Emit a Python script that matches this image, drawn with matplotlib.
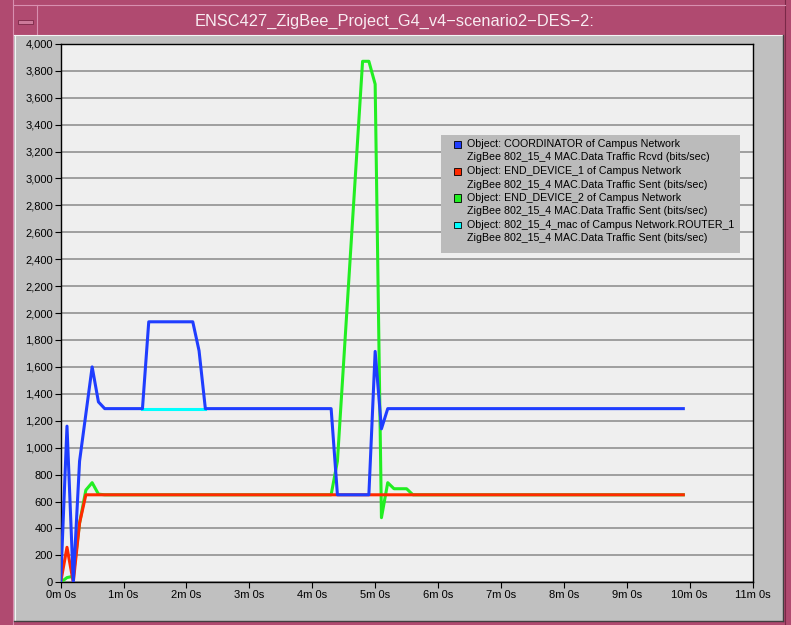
import matplotlib
matplotlib.use("Agg")
import matplotlib.pyplot as plt
from matplotlib.patches import Rectangle
from matplotlib.lines import Line2D

# ---------------- data (time in minutes, values in bits/sec) ----------------
title = "ENSC427_ZigBee_Project_G4_v4\u2212scenario2\u2212DES\u22122:"

coord_t = [0, 0.1, 0.2, 0.3, 0.4, 0.5, 0.6, 0.7, 1.3, 1.4, 2.1, 2.2, 2.3, 4.3, 4.4, 4.9, 5.0, 5.1, 5.2, 9.9]
coord_v = [0, 1160, 0, 900, 1250, 1600, 1340, 1290, 1290, 1935, 1935, 1720, 1290, 1290, 650, 650, 1715, 1140, 1290, 1290]

ed1_t = [0, 0.1, 0.2, 0.3, 0.4, 9.9]
ed1_v = [0, 260, 0, 440, 650, 650]

ed2_t = [0, 0.1, 0.2, 0.3, 0.4, 0.5, 0.6, 0.7, 4.3, 4.4, 4.8, 4.9, 5.0, 5.1, 5.2, 5.3, 5.5, 5.6, 9.9]
ed2_v = [0, 35, 45, 440, 685, 740, 655, 650, 650, 900, 3870, 3870, 3700, 480, 740, 695, 695, 650, 650]

router_t = [1.3, 2.3]
router_v = [1290, 1290]

legend_lines = [
    ("Object: COORDINATOR of Campus Network", "ZigBee 802_15_4 MAC.Data Traffic Rcvd (bits/sec)"),
    ("Object: END_DEVICE_1 of Campus Network", "ZigBee 802_15_4 MAC.Data Traffic Sent (bits/sec)"),
    ("Object: END_DEVICE_2 of Campus Network", "ZigBee 802_15_4 MAC.Data Traffic Sent (bits/sec)"),
    ("Object: 802_15_4_mac of Campus Network.ROUTER_1", "ZigBee 802_15_4 MAC.Data Traffic Sent (bits/sec)"),
]

x_ticks = list(range(0, 12))
x_tick_labels = [f"{m}m 0s" for m in x_ticks]
y_ticks = list(range(0, 4001, 200))
y_tick_labels = [f"{v:,}" for v in y_ticks]

# ---------------- styles ----------------
C_BLUE = "#1F3DFF"
C_RED = "#FF2A00"
C_GREEN = "#22EE22"
C_CYAN = "#00FFFF"
PINK = "#B04A70"
PANEL = "#C0C0C0"
PLOTBG = "#EFEFEF"
FONT = ["Liberation Sans", "DejaVu Sans"]

W, H = 791, 625
fig = plt.figure(figsize=(W / 100, H / 100), dpi=100, facecolor=PINK)


def fx(x):
    return x / W


def fy(y):
    return 1 - y / H


def prect(x0, y0, x1, y1, zorder=-2, **kw):
    fig.add_artist(Rectangle((fx(x0), fy(y1)), fx(x1) - fx(x0), fy(y0) - fy(y1),
                             transform=fig.transFigure, zorder=zorder, **kw))


def pline(xs, ys, zorder=-1, **kw):
    fig.add_artist(Line2D([fx(x) for x in xs], [fy(y) for y in ys],
                          transform=fig.transFigure, zorder=zorder, **kw))


# window frame
pline([13, 13], [0, 625], color="#D890B0", lw=0.8)
pline([785, 785], [0, 625], color="#7A2848", lw=0.8)
pline([13, 785], [5, 5], color="#D890B0", lw=0.8)
pline([37, 37], [5, 34], color="#D890B0", lw=0.8)
prect(17.5, 19.5, 32.5, 23.5, facecolor="#CC7A9A", edgecolor="#7A2848", lw=0.6)
fig.text(fx(395), fy(21.5), title, ha="center", va="center", color="#F8ECF2",
         fontsize=11.8, family=FONT)

# grey panel
prect(14, 34.5, 783, 621, facecolor=PANEL, edgecolor="none", zorder=-3)
pline([14, 783], [35, 35], color="#F4F4F4", lw=0.8)
pline([14.5, 14.5], [35, 621], color="#F4F4F4", lw=0.8)
pline([782.5, 782.5], [35, 621], color="#404040", lw=1.0)
pline([14, 783], [620.5, 620.5], color="#404040", lw=1.0)

# axes
left, right, top, bottom = 60.7, 752.5, 43.8, 582.3
ax = fig.add_axes([fx(left), fy(bottom), (right - left) / W, (bottom - top) / H])
ax.set_zorder(1)
ax.set_facecolor(PLOTBG)
ax.set_xlim(0, 11)
ax.set_ylim(0, 4000)
ax.set_xticks(x_ticks)
ax.set_xticklabels(x_tick_labels)
ax.set_yticks(y_ticks)
ax.set_yticklabels(y_tick_labels)
ax.grid(axis="y", color="#888888", lw=1.1)
ax.set_axisbelow(True)
for s in ax.spines.values():
    s.set_color("black")
    s.set_linewidth(1.0)
ax.tick_params(axis="both", direction="out", length=4, width=0.8, color="black",
               labelsize=8, pad=1.5, labelcolor="black")
for lab in ax.get_xticklabels() + ax.get_yticklabels():
    lab.set_family(FONT)

lw = 2.2
ax.plot(router_t, router_v, color=C_CYAN, lw=lw, zorder=3)
ax.plot(ed2_t, ed2_v, color=C_GREEN, lw=lw, zorder=4)
ax.plot(ed1_t, ed1_v, color=C_RED, lw=lw, zorder=5)
ax.plot(coord_t, coord_v, color=C_BLUE, lw=lw, zorder=6)

# legend
prect(441, 135, 740, 253, facecolor="#BBBBBB", edgecolor="none", zorder=10)
colors = [C_BLUE, C_RED, C_GREEN, C_CYAN]
y0 = 144
for i, ((l1, l2), c) in enumerate(zip(legend_lines, colors)):
    ya = y0 + i * 27
    prect(454, ya - 3.5, 461, ya + 3.5, facecolor=c, edgecolor="black", lw=0.6, zorder=11)
    fig.text(fx(467), fy(ya), l1, ha="left", va="center", fontsize=7.7, family=FONT, zorder=12)
    fig.text(fx(467), fy(ya + 13.5), l2, ha="left", va="center", fontsize=7.7, family=FONT, zorder=12)

fig.savefig("out.png", dpi=100, facecolor=PINK)
